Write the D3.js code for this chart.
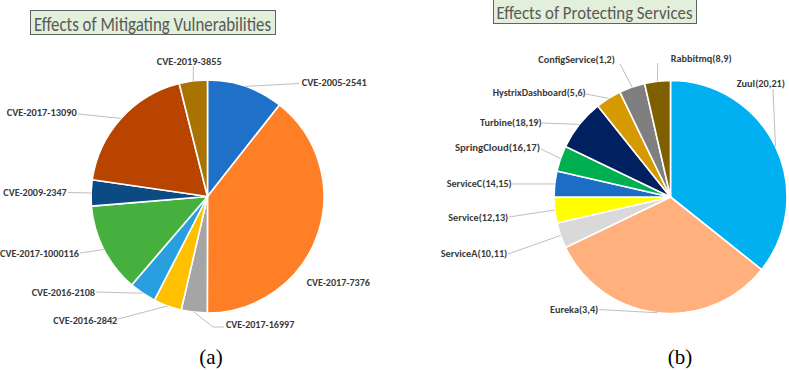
<!DOCTYPE html>
<html><head><meta charset="utf-8">
<script src="https://cdn.jsdelivr.net/npm/d3@7"></script>
<style>html,body{margin:0;padding:0;background:#fff;}svg{display:block;}</style>
</head><body>
<svg id="chart" width="789" height="370"></svg>
<script>
// ---------- DATA ----------
const vulnCategories = ["CVE-2005-2541","CVE-2017-7376","CVE-2017-16997","CVE-2016-2842","CVE-2016-2108","CVE-2017-1000116","CVE-2009-2347","CVE-2017-13090","CVE-2019-3855"];
const vulnValues = [10.6, 39.4, 3.6, 3.9, 3.75, 12.4, 3.6, 18.8, 3.9];
const vulnColors = ["#1f70c8","#ff7f27","#a5a5a5","#ffc000","#2a9fdf","#46b03f","#0b4a82","#b84400","#a87300"];

const svcCategories = ["Zuul(20,21)","Eureka(3,4)","ServiceA(10,11)","Service(12,13)","ServiceC(14,15)","SpringCloud(16,17)","Turbine(18,19)","HystrixDashboard(5,6)","ConfigService(1,2)","Rabbitmq(8,9)"];
const svcValues = [10, 9, 1, 1, 1, 1, 2, 1, 1, 1];
const svcColors = ["#00b0f0","#ffb07c","#d9d9d9","#ffff00","#1c6dc5","#00b050","#002060","#d69a00","#7f7f7f","#7f6000"];

const titles = ["Effects of Mitigating Vulnerabilities","Effects of Protecting Services"];
const captions = ["(a)","(b)"];

// ---------- LAYOUT ----------
const layoutA = [
  {x:301.7,y:82,a:"start",w:65,lx:299,ly:83.5},
  {x:306.7,y:281.7,a:"start",w:63.3},
  {x:226,y:324.3,a:"start",w:68.3,lx:224,ly:327,ex:213,ey:327},
  {x:117.3,y:320,a:"end",w:64,lx:118,ly:319},
  {x:95,y:291.7,a:"end",w:63.3,lx:96,ly:292},
  {x:79,y:253.3,a:"end",w:79,lx:80,ly:253},
  {x:66.7,y:192.3,a:"end",w:63.4,lx:68,ly:192.5},
  {x:76.7,y:111.7,a:"end",w:70,lx:78,ly:114},
  {x:189.2,y:60.7,a:"middle",w:65,lx:193.3,ly:66}
];
const layoutB = [
  {x:736.7,y:83.3,a:"start",w:48.3,lx:773,ly:89},
  {x:598.3,y:309,a:"end",w:48.3,lx:599,ly:309.5},
  {x:507.3,y:253.5,a:"end",w:66.6,lx:508,ly:254},
  {x:508.3,y:216.7,a:"end",w:60,lx:509,ly:217},
  {x:511.7,y:183.3,a:"end",w:65,lx:512,ly:184},
  {x:540,y:146.7,a:"end",w:85,lx:541,ly:149},
  {x:541.7,y:121.7,a:"end",w:61.7,lx:542,ly:123},
  {x:585.7,y:91.7,a:"end",w:93,lx:586,ly:94},
  {x:615,y:59.3,a:"end",w:76.7,lx:620,ly:64},
  {x:670.7,y:58.3,a:"start",w:61,lx:657.7,ly:63}
];
const panels = [
  {cats:vulnCategories, vals:vulnValues, cols:vulnColors, cx:207.5, cy:196.5, r:116.5, lay:layoutA,
   title:{x:30,y:10,w:245,h:24,tx:34,ty:30.5,tw:237,fs:20}, cap:{x:211,y:364}},
  {cats:svcCategories, vals:svcValues, cols:svcColors, cx:670.5, cy:197, r:116.5, lay:layoutB,
   title:{x:493,y:-1,w:203,h:24,tx:496.5,ty:18.5,tw:196,fs:19}, cap:{x:680,y:364}}
];

const svg = d3.select("#chart");
const labelFont = "Carlito, Calibri, Lato, 'Open Sans', sans-serif";

panels.forEach((p, pi) => {
  const pie = d3.pie().sort(null).value(d => d)(p.vals);
  const arc = d3.arc().innerRadius(0).outerRadius(p.r);
  const g = svg.append("g").attr("transform", `translate(${p.cx},${p.cy})`);
  g.selectAll("path").data(pie).join("path")
    .attr("d", arc)
    .attr("fill", (d, i) => p.cols[i])
    .attr("stroke", "#fff").attr("stroke-width", 1.6).attr("stroke-linejoin", "round");

  // leader lines
  const lg = svg.append("g");
  pie.forEach((d, i) => {
    const L = p.lay[i];
    if (L.lx === undefined) return;
    const m = (d.startAngle + d.endAngle) / 2;
    const ax = p.cx + p.r * Math.sin(m), ay = p.cy - p.r * Math.cos(m);
    const pts = [[ax, ay]];
    if (L.ex !== undefined) pts.push([L.ex, L.ey]);
    pts.push([L.lx, L.ly]);
    lg.append("path").attr("d", d3.line()(pts))
      .attr("fill", "none").attr("stroke", "#bfbfbf").attr("stroke-width", 1);
  });

  // labels
  const tg = svg.append("g");
  p.cats.forEach((c, i) => {
    const L = p.lay[i];
    tg.append("text").attr("x", L.x).attr("y", L.y + 3.8)
      .attr("text-anchor", L.a)
      .attr("font-family", labelFont).attr("font-weight", "bold").attr("font-size", 10.5)
      .attr("fill", "#3a3a3a")
      .attr("textLength", L.w).attr("lengthAdjust", "spacingAndGlyphs")
      .text(c);
  });

  // title box
  const t = p.title;
  svg.append("rect").attr("x", t.x + 0.5).attr("y", t.y + 0.5).attr("width", t.w).attr("height", t.h)
    .attr("fill", "#e2efda").attr("stroke", "#5f6360").attr("stroke-width", 1);
  svg.append("text").attr("x", t.tx).attr("y", t.ty)
    .attr("font-family", labelFont).attr("font-size", t.fs).attr("fill", "#595959")
    .attr("textLength", t.tw).attr("lengthAdjust", "spacingAndGlyphs")
    .text(titles[pi]);

  // caption
  svg.append("text").attr("x", p.cap.x).attr("y", p.cap.y)
    .attr("text-anchor", "middle")
    .attr("font-family", "'Liberation Serif', 'DejaVu Serif', serif").attr("font-size", 21)
    .attr("fill", "#000").text(captions[pi]);
});
</script>
</body></html>
